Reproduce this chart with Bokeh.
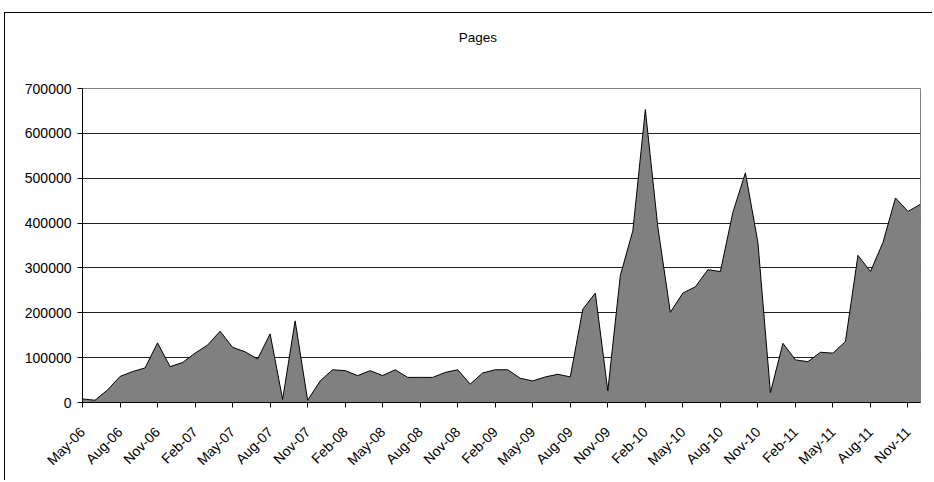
from bokeh.plotting import figure
from bokeh.models import (FixedTicker, Range1d, LinearAxis, PrintfTickFormatter,
                          CustomLabelingPolicy, Title)
from bokeh.embed import file_html
from bokeh.resources import INLINE

title_text = "Pages"

tick_labels = ["May-06", "Aug-06", "Nov-06", "Feb-07", "May-07", "Aug-07", "Nov-07",
               "Feb-08", "May-08", "Aug-08", "Nov-08", "Feb-09", "May-09", "Aug-09",
               "Nov-09", "Feb-10", "May-10", "Aug-10", "Nov-10", "Feb-11", "May-11",
               "Aug-11", "Nov-11"]

# monthly page counts, May-06 .. Dec-11
pages = [8000, 5000, 28000, 58000, 69000, 77000, 133000, 80000, 89000, 110000,
         128000, 159000, 123000, 113000, 97000, 153000, 7000, 182000, 5000, 48000,
         73000, 71000, 60000, 71000, 60000, 73000, 56000, 56000, 56000, 67000,
         73000, 41000, 66000, 73000, 73000, 54000, 48000, 57000, 63000, 57000,
         208000, 244000, 26000, 283000, 383000, 653000, 391000, 201000, 244000, 258000,
         296000, 292000, 424000, 512000, 357000, 22000, 132000, 95000, 91000, 112000,
         110000, 136000, 328000, 292000, 357000, 456000, 426000, 442000]

y_ticks = [0, 100000, 200000, 300000, 400000, 500000, 600000, 700000]

months = list(range(len(pages)))
n = len(pages)
tick_pos = list(range(0, n, 3))

p = figure(width=928, height=468, output_backend="svg", toolbar_location=None,
           x_range=Range1d(0, n - 1), y_range=Range1d(0, 700000),
           min_border_left=77, min_border_right=13, min_border_top=75,
           min_border_bottom=79)
p.styles = {"border-left": "1px solid #000000", "border-top": "1px solid #000000",
            "margin-left": "4px", "margin-top": "12px"}

p.varea(x=months, y1=0, y2=pages, fill_color="#808080")
p.line(x=months, y=pages, line_color="#000000", line_width=1)

p.xgrid.visible = False
p.ygrid.ticker = FixedTicker(ticks=y_ticks)
p.ygrid.grid_line_color = "#202020"
p.ygrid.grid_line_width = 1

p.outline_line_color = "#808080"
p.outline_line_width = 1

xa = p.xaxis[0]
xa.ticker = FixedTicker(ticks=tick_pos)
xa.major_label_overrides = {t: lab for t, lab in zip(tick_pos, tick_labels)}
xa.major_label_orientation = 0.785398
xa.major_tick_in = 0
xa.major_tick_out = 5
xa.minor_tick_line_color = None
xa.axis_line_color = "#000000"
xa.major_tick_line_color = "#000000"
xa.major_label_text_font = "Liberation Sans"
xa.major_label_text_font_size = "14px"
xa.major_label_text_color = "#000000"
xa.major_label_standoff = 22

ya = p.yaxis[0]
ya.ticker = FixedTicker(ticks=y_ticks)
ya.formatter = PrintfTickFormatter(format="%d")
ya.major_tick_in = 0
ya.major_tick_out = 5
ya.minor_tick_line_color = None
ya.axis_line_color = "#000000"
ya.major_tick_line_color = "#000000"
ya.major_label_text_font = "Liberation Sans"
ya.major_label_text_font_size = "14px"
ya.major_label_text_color = "#000000"
ya.major_label_standoff = 6

# invisible spacer axis between the frame and the title
sp = LinearAxis(ticker=FixedTicker(ticks=[n // 2]))
sp.axis_line_color = None
sp.major_tick_line_color = None
sp.minor_tick_line_color = None
sp.major_tick_in = 0
sp.major_tick_out = 44
sp.minor_tick_out = 0
sp.major_label_text_font_size = "0px"
sp.major_label_standoff = 0
sp.major_label_policy = CustomLabelingPolicy(code="return []")
p.add_layout(sp, "above")

# chart title, outside the spacer
p.add_layout(Title(text=title_text, align="left", offset=458.3 - 82, standoff=0,
                   vertical_align="bottom", text_font="Liberation Sans",
                   text_font_style="normal", text_font_size="13.5px",
                   text_color="#000000"), "above")

open("out.html", "w").write(file_html(p, INLINE))
